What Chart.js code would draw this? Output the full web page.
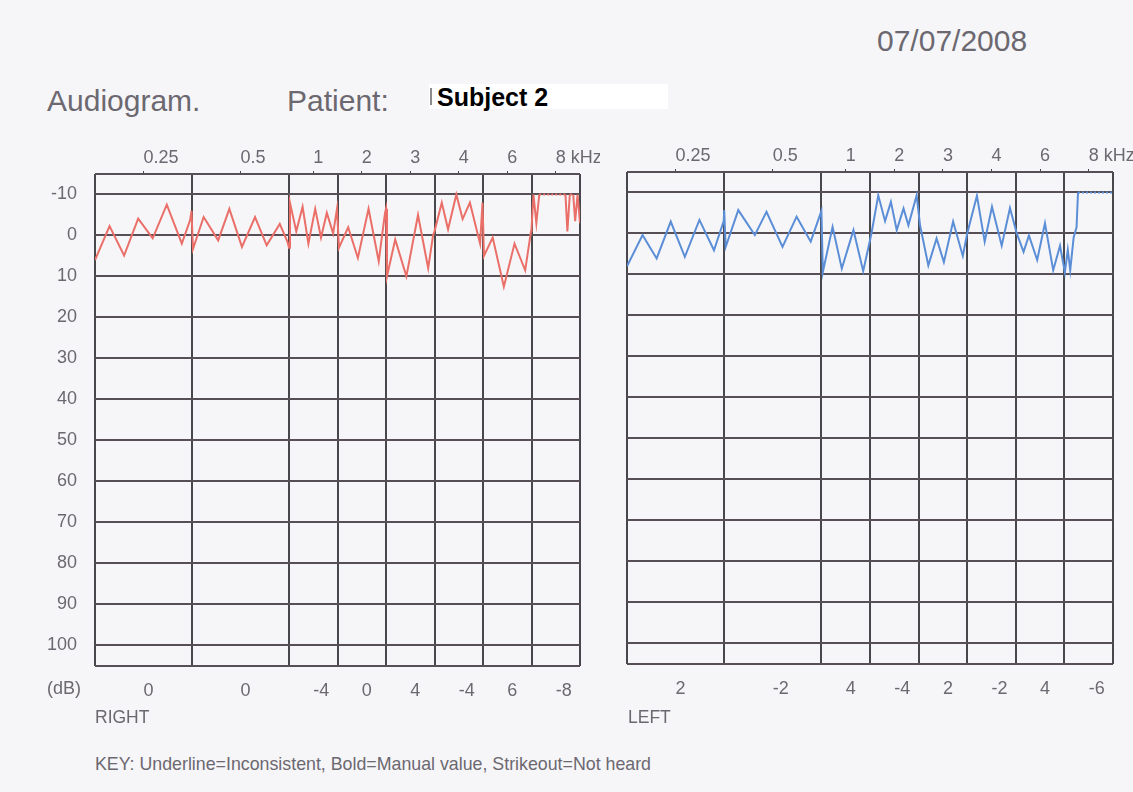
<!DOCTYPE html>
<html>
<head>
<meta charset="utf-8">
<script src="https://cdn.jsdelivr.net/npm/chart.js@4"></script>
<style>
    body { margin: 0; width: 1133px; height: 792px; background: #f6f6f9; position: relative; overflow: hidden;
           font-family: "Liberation Sans", Arial, sans-serif; color: #6c6870; }
    .t { position: absolute; white-space: nowrap; line-height: 1; }
    #date { left: 877px; top: 26px; font-size: 30px; }
    #title { left: 47px; top: 86px; font-size: 30px; }
    #patient { left: 287px; top: 86px; font-size: 30px; }
    #subject { left: 429px; top: 84px; width: 239px; height: 25px; background: #fff; color: #000;
               font-weight: bold; font-size: 25px; padding-left: 8px; box-sizing: border-box; line-height: 26px; }
    #subject::before { content: ""; position: absolute; left: 1px; top: 4px; width: 2px; height: 17px; background: #8a8a8a; }
    #db { left: 47px; top: 679px; font-size: 18px; }
    #right { left: 95px; top: 709px; font-size: 17.5px; }
    #left { left: 628px; top: 709px; font-size: 17.5px; }
    #key { left: 95px; top: 756px; font-size: 17.8px; }
    .wrap { position: absolute; top: 140px; }
</style>
</head>
<body>
<div class="t" id="date">07/07/2008</div>
<div class="t" id="title">Audiogram.</div>
<div class="t" id="patient">Patient:</div>
<div class="t" id="subject">Subject 2</div>
<div class="wrap" style="left:0px"><canvas id="chartRight" width="600" height="580"></canvas></div>
<div class="wrap" style="left:600px"><canvas id="chartLeft" width="533" height="580"></canvas></div>
<div class="t" id="db">(dB)</div>
<div class="t" id="right">RIGHT</div>
<div class="t" id="left">LEFT</div>
<div class="t" id="key">KEY: Underline=Inconsistent, Bold=Manual value, Strikeout=Not heard</div>

<script>
// --- Données ---
const bandEdges = [0, 2, 4, 5, 6, 7, 8, 9, 10];
const freqTicks = [1, 3, 4.5, 5.5, 6.5, 7.5, 8.5, 9.5];
const freqLabels = ['0.25', '0.5', '1', '2', '3', '4', '6', '8 kHz'];
const dbTicks = [-10, 0, 10, 20, 30, 40, 50, 60, 70, 80, 90, 100];
const rightBandDb = ['0', '0', '-4', '0', '4', '-4', '6', '-8'];
const leftBandDb = ['2', '-2', '4', '-4', '2', '-2', '4', '-6'];

// oreille droite (tracé rouge)
const rightX = [0.00, 0.30, 0.60, 0.89, 1.19, 1.48, 1.79, 1.96, 1.99,
    2.02, 2.24, 2.54, 2.77, 3.03, 3.30, 3.54, 3.81, 3.97, 4.00,
    4.02, 4.15, 4.28, 4.40, 4.54, 4.66, 4.78, 4.91, 4.99,
    5.03, 5.22, 5.42, 5.64, 5.85, 5.98, 6.00,
    6.02, 6.19, 6.42, 6.66, 6.87, 6.97, 7.00,
    7.15, 7.28, 7.45, 7.58, 7.73, 7.94, 7.99,
    8.02, 8.20, 8.43, 8.65, 8.87, 8.99,
    9.00, 9.04, 9.10, 9.16, 9.70, 9.74, 9.79, 9.86, 9.90, 9.95, 10.0];
const rightDb = [6, -2.3, 4.9, -4.1, 0.7, -7.5, 2, -3.7, -6,
    3.3, -4.5, 1.2, -6.5, 2.8, -4.5, 2.4, -2.8, 1.6, 3,
    -8, -1, -7, 2, -6.5, 0.5, -5.5, -0.5, -6.5,
    3, -2, 5.5, -6.5, 6.3, -5.5, -6.5,
    10, 1, 10, -5, 8, 0, -1,
    -8, -1.5, -10, -4, -8, 2, -8,
    5, 0.5, 12.5, 2, 8.5, -1,
    -1.5, -10, -3, -10, -10, -1, -10, -10, -3.5, -10, -3];

// oreille gauche (tracé bleu)
const leftX = [0.00, 0.32, 0.61, 0.90, 1.19, 1.49, 1.79, 1.99, 2.00,
    2.03, 2.29, 2.63, 2.87, 3.20, 3.49, 3.78, 4.00,
    4.03, 4.23, 4.42, 4.66, 4.86, 5.03,
    5.17, 5.31, 5.43, 5.55, 5.69, 5.79, 5.96, 6.03,
    6.20, 6.37, 6.52, 6.71, 6.91, 7.00,
    7.20, 7.36, 7.51, 7.71, 7.88, 8.02,
    8.16, 8.27, 8.44, 8.60, 8.77, 8.91, 9.01, 9.07, 9.12, 9.19, 9.25, 9.28, 10.0];
const leftDb = [8, 0.4, 6.1, -2.9, 5.7, -3.3, 4.1, -3, -5.7,
    3.3, -5.7, 0.4, -5.3, 3.3, -4.1, 2, -5.5,
    9.4, -1.6, 8.6, -0.8, 9.2, 0,
    -9.3, -3, -7.7, -0.8, -6.1, -2, -9.3, -2,
    7.8, 1.2, 7, -2.9, 5.5, 0,
    -9.2, 2, -6.5, 3, -6.2, 0,
    4.5, 0.5, 6.5, -2.5, 9, 3, 9.5, 4, 9, 1, -1.5, -10, -10];

const textColor = '#6c6870';
const hLineColor = '#574e56';
const vLineColor = '#48484c';
const tickFont = { family: '"Liberation Sans", Arial, sans-serif', size: 18 };

// Fonction générique pour un audiogramme
function createAudiogram(canvasId, xs, ys, bandLabels, color, geom) {
    const ctx = document.getElementById(canvasId).getContext('2d');
    new Chart(ctx, {
        type: 'line',
        data: {
            datasets: [{
                data: xs.map((x, i) => ({ x: x, y: ys[i] })),
                borderColor: color,
                borderWidth: 2,
                pointRadius: 0,
                tension: 0,
                segment: {
                    borderDash: c => (ys[c.p0DataIndex] === -10 && ys[c.p1DataIndex] === -10) ? [2, 2] : undefined
                }
            }]
        },
        options: {
            responsive: false, animation: false,
            layout: { padding: { left: 0, top: 0, bottom: 0, right: geom.padRight } },
            plugins: { legend: { display: false }, tooltip: { enabled: false } },
            scales: {
                x: {
                    type: 'linear', position: 'bottom', min: 0, max: 10,
                    grid: { display: false }, border: { display: false },
                    afterBuildTicks: s => { s.ticks = freqTicks.map(v => ({ value: v })); },
                    afterFit: s => { s.height = geom.bottom; s.paddingLeft = 0; s.paddingRight = 0; },
                    ticks: { align: 'start', padding: 7, color: textColor, font: tickFont,
                             autoSkip: false, maxRotation: 0, callback: (v, i) => bandLabels[i] }
                },
                xTop: {
                    type: 'linear', position: 'top', min: 0, max: 10,
                    grid: { drawOnChartArea: false, drawTicks: true, tickLength: 3, color: vLineColor, lineWidth: 1 },
                    border: { display: false },
                    afterBuildTicks: s => { s.ticks = freqTicks.map(v => ({ value: v })); },
                    afterFit: s => { s.height = geom.top; s.paddingLeft = 0; s.paddingRight = 0; },
                    ticks: { align: 'start', padding: 2, color: textColor, font: tickFont,
                             autoSkip: false, maxRotation: 0, callback: (v, i) => freqLabels[i] }
                },
                xGrid: {
                    type: 'linear', position: 'bottom', min: 0, max: 10,
                    grid: { color: vLineColor, lineWidth: 2, drawTicks: false },
                    border: { display: false },
                    afterBuildTicks: s => { s.ticks = bandEdges.map(v => ({ value: v })); },
                    afterFit: s => { s.height = 0; s.paddingLeft = 0; s.paddingRight = 0; },
                    ticks: { display: false }
                },
                y: {
                    type: 'linear', min: -15, max: 105, reverse: true,
                    grid: { color: hLineColor, lineWidth: 2, drawTicks: false },
                    border: { display: false },
                    afterBuildTicks: s => { s.ticks = [-15, ...dbTicks, 105].map(v => ({ value: v })); },
                    afterFit: s => { s.width = geom.left; s.paddingTop = 0; s.paddingBottom = 0; },
                    ticks: { display: geom.showY, padding: 18, color: textColor, font: tickFont,
                             callback: v => dbTicks.includes(v) ? String(v) : '' }
                }
            }
        }
    });
}

createAudiogram('chartRight', rightX, rightDb, rightBandDb, '#ea6f68',
    { left: 95, top: 34, bottom: 54.5, padRight: 20, showY: true });
createAudiogram('chartLeft', leftX, leftDb, leftBandDb, '#5b8ed6',
    { left: 27, top: 32, bottom: 56.5, padRight: 20, showY: false });
</script>
</body>
</html>
